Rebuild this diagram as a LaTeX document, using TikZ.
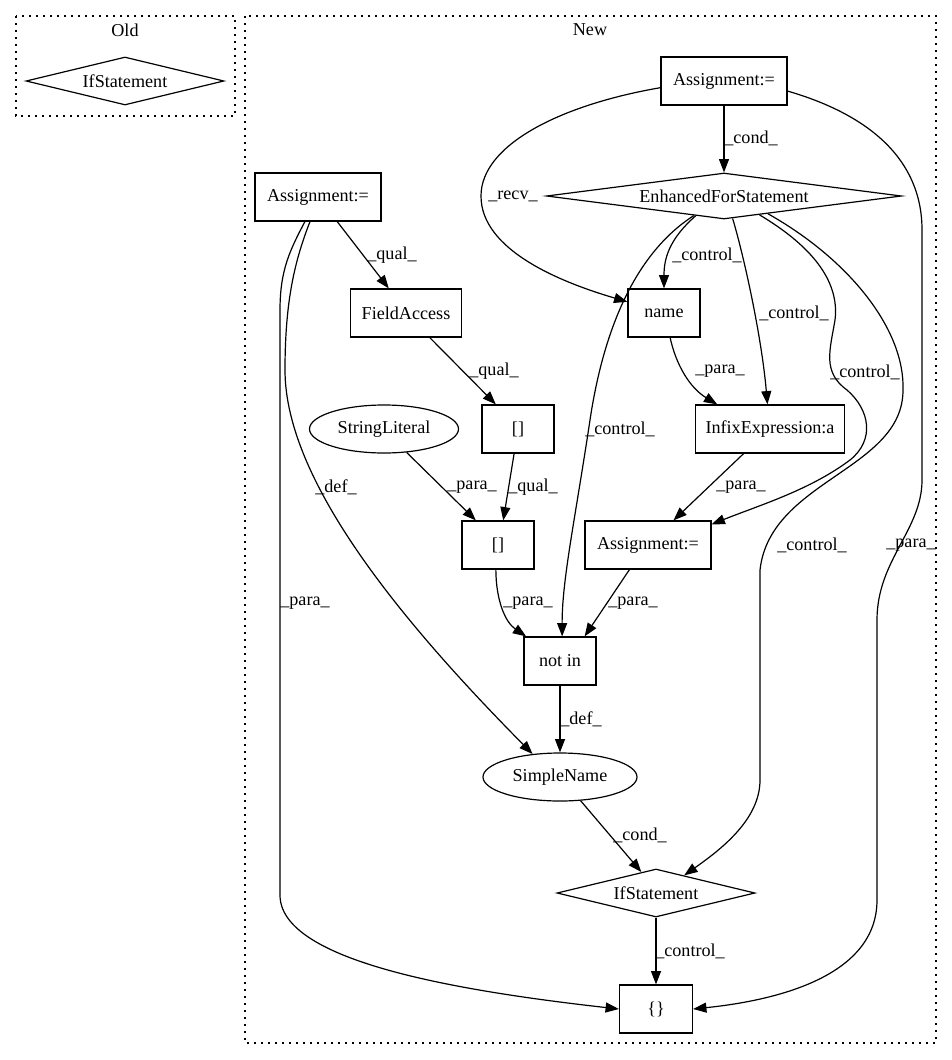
\documentclass[tikz,border=0pt]{standalone}
\usepackage{fontspec}
\setmainfont{Liberation Serif}
\usetikzlibrary{shapes.geometric,arrows.meta}
\newcommand\U{0.75pt}
\tikzset{
  box/.style={draw, rectangle, line width=0.9pt, inner sep=0pt, minimum height=48*\U},
  cond/.style={draw, diamond, line width=0.9pt, inner sep=0pt},
  ell/.style={draw, ellipse, line width=0.9pt, inner sep=0pt, minimum height=48*\U},
  lbl/.style={inner sep=0pt},
  edge/.style={-{Triangle[length=10pt,width=7.5pt]}, line width=0.9pt},
  clus/.style={line width=0.9pt, dash pattern=on 1.5pt off 3.75pt}
}

\begin{document}
\begin{tikzpicture}[x=0.75pt, y=-0.75pt]

  \fontsize{13.6pt}{16pt}\selectfont
  \useasboundingbox (0,0) rectangle (952,1060);

  % clusters
  \draw[clus] (16,16) rectangle (235,116);
  \draw[clus] (245,16) rectangle (936,1043);
  \node (lold) at (125,30) {Old};
  \node (lnew) at (590,30) {New};

  \node[cond, aspect=4.1, minimum width=198*\U, minimum height=48*\U] (oldif) at (125,81) {IfStatement};

  \node[box, minimum width=126*\U] (a1) at (724,81) {Assignment:=};
  \node[cond, aspect=7.7, minimum width=355*\U, minimum height=46*\U] (efs) at (724,196) {EnhancedForStatement};
  \node[box, minimum width=126*\U] (a2) at (318,197) {Assignment:=};
  \node[box, minimum width=111*\U] (fa) at (406,313) {FieldAccess};
  \node[box, minimum width=72*\U] (name) at (664,313) {name};
  \node[ell, minimum width=149*\U] (sl) at (384,429) {StringLiteral};
  \node[box, minimum width=72*\U] (bu) at (518,429) {[]};
  \node[box, minimum width=149*\U] (infix) at (770,429) {InfixExpression:a};
  \node[box, minimum width=72*\U] (bl) at (498,545) {[]};
  \node[box, minimum width=126*\U] (a3) at (648,545) {Assignment:=};
  \node[box, minimum width=72*\U] (notin) at (560,661) {not in};
  \node[ell, minimum width=154*\U] (sn) at (560,777) {SimpleName};
  \node[cond, aspect=4.1, minimum width=198*\U, minimum height=48*\U] (ifs) at (656,893) {IfStatement};
  \node[box, minimum width=73*\U] (brace) at (656,1009) {\{\}};

  \draw[edge] (a1) -- (efs); %% a1->efs
  \node[lbl] (l1) at (751,138) {\_cond\_};

  \draw[edge] (a1.186) .. controls (560,105) and (481,145) .. (481,196)
    .. controls (481,250) and (560,282) .. (name.163); %% a1->name
  \node[lbl] (l2) at (513,196) {\_recv\_};

  \draw[edge] (a1.-9) .. controls (870,115) and (922,160) .. (922,230) -- (922,480)
    .. controls (922,530) and (877,560) .. (877,620) -- (877,900)
    .. controls (877,975) and (780,1000) .. (brace.east); %% a1->brace
  \node[lbl] (l3) at (911,545) {\_para\_};

  \draw[edge] (efs.215) .. controls (668,240) and (664,260) .. (name.north); %% efs->name
  \node[lbl] (l4) at (707,255) {\_control\_};

  \draw[edge] (efs.213) .. controls (640,250) and (605,320) .. (590,420)
    .. controls (575,520) and (562,580) .. (notin.85); %% efs->notin
  \node[lbl] (l5) at (620,429) {\_control\_};

  \draw[edge] (efs.-69) .. controls (745,260) and (762,340) .. (infix.96); %% efs->infix
  \node[lbl] (l6) at (794,313) {\_control\_};

  \draw[edge] (efs.-28) .. controls (810,245) and (840,280) .. (835,320)
    .. controls (830,350) and (822,372) .. (847,390)
    .. controls (870,410) and (875,440) .. (850,460)
    .. controls (810,490) and (760,505) .. (a3.18); %% efs->a3
  \node[lbl] (l7) at (865,372) {\_control\_};

  \draw[edge] (efs.-22) .. controls (850,260) and (905,330) .. (903,390)
    .. controls (903,470) and (770,480) .. (760,570) -- (760,780)
    .. controls (760,820) and (720,850) .. (ifs.32); %% efs->ifs
  \node[lbl] (l8) at (812,545) {\_control\_};

  \draw[edge] (a2.-52) -- (fa.125); %% a2->fa
  \node[lbl] (l9) at (392,255) {\_qual\_};

  \draw[edge] (a2.-108) .. controls (295,260) and (285,300) .. (285,370)
    .. controls (285,480) and (400,620) .. (sn.140); %% a2->sn
  \node[lbl] (l10) at (336,487) {\_def\_};

  \draw[edge] (a2.-118) .. controls (290,250) and (280,270) .. (280,310) -- (280,895)
    .. controls (280,960) and (450,990) .. (brace.west); %% a2->brace
  \node[lbl] (l11) at (305,603) {\_para\_};

  \draw[edge] (fa.-46) -- (bu.132); %% fa->bu
  \node[lbl] (l12) at (494,371) {\_qual\_};

  \draw[edge] (sl.-46) -- (bl.132); %% sl->bl
  \node[lbl] (l13) at (472,487) {\_para\_};

  \draw[edge] (bu.-99) -- (bl.78); %% bu->bl
  \node[lbl] (l14) at (533,487) {\_qual\_};

  \draw[edge] (name.-76) .. controls (676,365) and (690,388) .. (infix.155); %% name->infix
  \node[lbl] (l15) at (720,371) {\_para\_};

  \draw[edge] (infix.-137) -- (a3.44); %% infix->a3
  \node[lbl] (l16) at (741,487) {\_para\_};

  \draw[edge] (bl.-95) .. controls (496,600) and (505,622) .. (notin.144); %% bl->notin
  \node[lbl] (l17) at (528,603) {\_para\_};

  \draw[edge] (a3.-127) -- (notin.45); %% a3->notin
  \node[lbl] (l18) at (633,603) {\_para\_};

  \draw[edge] (notin) -- (sn); %% notin->sn
  \node[lbl] (l19) at (581,719) {\_def\_};

  \draw[edge] (sn.-49) -- (ifs.125); %% sn->ifs
  \node[lbl] (l20) at (640,835) {\_cond\_};

  \draw[edge] (ifs) -- (brace); %% ifs->brace
  \node[lbl] (l21) at (690,951) {\_control\_};

\end{tikzpicture}
\end{document}
